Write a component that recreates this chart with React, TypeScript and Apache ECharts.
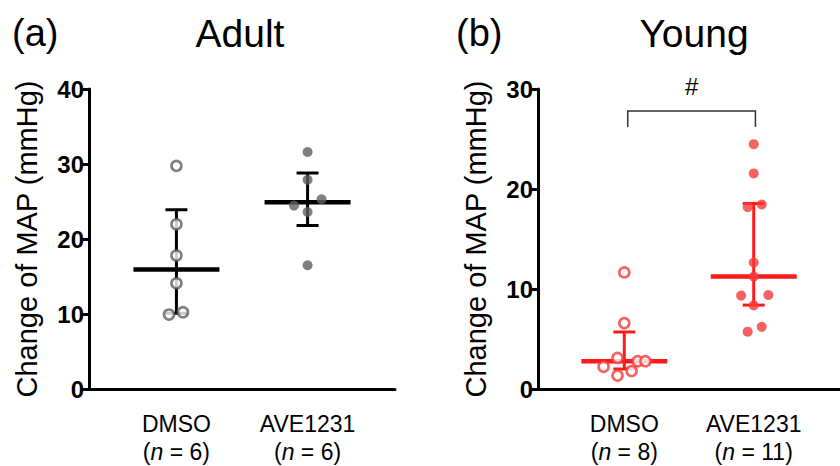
import React, { useEffect, useRef } from "react";
import * as echarts from "echarts";

// ---- data ----
const categories = ["DMSO", "AVE1231"];
const catX = [1, 2.5];
const adultN = [6, 6];
const youngN = [8, 11];

const adultDmso = [29.75, 21.96, 17.8, 14.1, 9.93, 10.24];
const adultDmsoJitter = [0, 0, 0, 0, -0.085, 0.075];
const adultAve = [31.6, 27.9, 25.3, 24.45, 23.6, 16.5];
const adultAveJitter = [0, 0, 0.16, -0.155, 0, 0];

const youngDmso = [11.66, 6.59, 3.11, 2.78, 2.78, 2.22, 1.8, 1.34];
const youngDmsoJitter = [0, 0, -0.078, 0.155, 0.245, -0.24, 0.085, -0.078];
const youngAve = [24.48, 21.56, 18.19, 18.45, 12.65, 11.24, 9.34, 9.4, 8.36, 6.22, 5.73];
const youngAveJitter = [0, 0, -0.07, 0.093, 0, 0, -0.146, 0.17, 0, 0.093, -0.07];

// [median, q1, q3]
const adultSummary = [
  [15.95, 10.1, 23.9],
  [24.9, 21.8, 28.8],
];
const youngSummary = [
  [2.78, 2.0, 5.7],
  [11.24, 8.39, 18.55],
];

const bracketX = [1.04, 2.52];
const bracketY = [26.2, 27.8];
const sigLabel = "#";
const sigY = 30.3;

const FONT = "'Liberation Sans', Arial, Helvetica, sans-serif";
const GRAY = "#5f5f5f";
const RED = "#f53a3a";
const RED_LINE = "#ff1a1a";

function pts(vals: number[], jit: number[], x: number) {
  return vals.map((v, i) => [x + jit[i], v]);
}

function summarySeries(summary: number[][], color: string, idx: number) {
  return {
    type: "custom",
    xAxisIndex: idx,
    yAxisIndex: idx,
    z: 2,
    data: summary.map((s, i) => [catX[i], s[0], s[1], s[2]]),
    encode: { x: 0, y: [1, 2, 3] },
    renderItem: (params: any, api: any) => {
      const x = api.value(0);
      const pm = api.coord([x, api.value(1)]);
      const plo = api.coord([x, api.value(2)]);
      const phi = api.coord([x, api.value(3)]);
      const mw = 43;
      const cw = 11;
      return {
        type: "group",
        children: [
          { type: "line", shape: { x1: plo[0], y1: plo[1], x2: phi[0], y2: phi[1] }, style: { stroke: color, lineWidth: 3 } },
          { type: "line", shape: { x1: phi[0] - cw, y1: phi[1], x2: phi[0] + cw, y2: phi[1] }, style: { stroke: color, lineWidth: 3 } },
          { type: "line", shape: { x1: plo[0] - cw, y1: plo[1], x2: plo[0] + cw, y2: plo[1] }, style: { stroke: color, lineWidth: 3 } },
          { type: "line", shape: { x1: pm[0] - mw, y1: pm[1], x2: pm[0] + mw, y2: pm[1] }, style: { stroke: color, lineWidth: 4.5 } },
        ],
      };
    },
  };
}

function xAxisFor(idx: number, ns: number[]) {
  return {
    type: "value",
    gridIndex: idx,
    min: 0,
    max: 3.5,
    interval: 0.5,
    splitLine: { show: false },
    axisTick: { show: false },
    axisLine: { show: true, onZero: false, lineStyle: { color: "#000", width: 3 } },
    axisLabel: {
      show: true,
      margin: 21,
      color: "#000",
      fontFamily: FONT,
      fontSize: 23,
      lineHeight: 28,
      showMinLabel: false,
      showMaxLabel: false,
      formatter: (v: number) => {
        const i = catX.findIndex((c) => Math.abs(c - v) < 1e-6);
        if (i < 0) return "";
        return categories[i] + "\n({i|n} = " + ns[i] + ")";
      },
      rich: {
        i: { fontStyle: "italic", fontFamily: FONT, fontSize: 23, lineHeight: 28, color: "#000" },
      },
    },
  };
}

function yAxisFor(idx: number, max: number) {
  return {
    type: "value",
    gridIndex: idx,
    min: 0,
    max,
    interval: 10,
    splitLine: { show: false },
    axisLine: { show: true, lineStyle: { color: "#000", width: 3 } },
    axisTick: { show: true, length: 7, lineStyle: { color: "#000", width: 3 } },
    axisLabel: { color: "#000", fontFamily: FONT, fontWeight: "bold", fontSize: 24, margin: 5 },
    name: "Change of MAP (mmHg)",
    nameLocation: "middle",
    nameRotate: 90,
    nameGap: 48,
    nameTextStyle: { color: "#000", fontFamily: FONT, fontSize: 29 },
  };
}

export default function App() {
  const ref = useRef<HTMLDivElement>(null);
  useEffect(() => {
    if (!ref.current) return;
    const chart = echarts.init(ref.current, null, { renderer: "svg" });
    chart.setOption({
      animation: false,
      backgroundColor: "#fff",
      grid: [
        { left: 89, top: 89, width: 306, height: 305 },
        { left: 538, top: 89, width: 302, height: 305 },
      ],
      xAxis: [xAxisFor(0, adultN), xAxisFor(1, youngN)],
      yAxis: [yAxisFor(0, 40), yAxisFor(1, 30)],
      graphic: [
        { type: "text", x: 12, y: 33, style: { text: "(a)", font: `38px ${FONT}`, fill: "#000", textVerticalAlign: "middle" } },
        { type: "text", x: 240, y: 33, style: { text: "Adult", font: `39px ${FONT}`, fill: "#000", textAlign: "center", textVerticalAlign: "middle" } },
        { type: "text", x: 456, y: 33, style: { text: "(b)", font: `38px ${FONT}`, fill: "#000", textVerticalAlign: "middle" } },
        { type: "text", x: 694, y: 33, style: { text: "Young", font: `39px ${FONT}`, fill: "#000", textAlign: "center", textVerticalAlign: "middle" } },
      ],
      series: [
        summarySeries(adultSummary, "#000", 0),
        summarySeries(youngSummary, RED_LINE, 1),
        {
          type: "scatter", xAxisIndex: 0, yAxisIndex: 0, z: 5,
          symbol: "circle", symbolSize: 10,
          itemStyle: { color: "#fff", borderColor: GRAY, borderWidth: 2.6 },
          data: pts(adultDmso, adultDmsoJitter, catX[0]),
        },
        {
          type: "scatter", xAxisIndex: 0, yAxisIndex: 0, z: 5,
          symbol: "circle", symbolSize: 10,
          itemStyle: { color: GRAY },
          data: pts(adultAve, adultAveJitter, catX[1]),
        },
        {
          type: "scatter", xAxisIndex: 1, yAxisIndex: 1, z: 5,
          symbol: "circle", symbolSize: 10,
          itemStyle: { color: "#fff", borderColor: RED, borderWidth: 2.6 },
          data: pts(youngDmso, youngDmsoJitter, catX[0]),
        },
        {
          type: "scatter", xAxisIndex: 1, yAxisIndex: 1, z: 5,
          symbol: "circle", symbolSize: 10,
          itemStyle: { color: RED },
          data: pts(youngAve, youngAveJitter, catX[1]),
        },
        {
          type: "custom", xAxisIndex: 1, yAxisIndex: 1, z: 3,
          data: [[bracketX[0], bracketX[1], bracketY[0], bracketY[1], sigY]],
          encode: { x: [0, 1], y: [2, 3, 4] },
          renderItem: (params: any, api: any) => {
            const a = api.coord([api.value(0), api.value(2)]);
            const b = api.coord([api.value(0), api.value(3)]);
            const c = api.coord([api.value(1), api.value(3)]);
            const d = api.coord([api.value(1), api.value(2)]);
            const t = api.coord([(api.value(0) + api.value(1)) / 2, api.value(4)]);
            return {
              type: "group",
              children: [
                { type: "polyline", shape: { points: [a, b, c, d] }, style: { stroke: "#333", lineWidth: 1.5, fill: "none" } },
                { type: "text", x: t[0], y: t[1], style: { text: sigLabel, font: `24px ${FONT}`, fill: "#000", textAlign: "center", textVerticalAlign: "middle" } },
              ],
            };
          },
        },
      ],
    });
    return () => chart.dispose();
  }, []);
  return <div ref={ref} style={{ position: "fixed", left: 0, top: 0, width: 840, height: 466 }} />;
}
